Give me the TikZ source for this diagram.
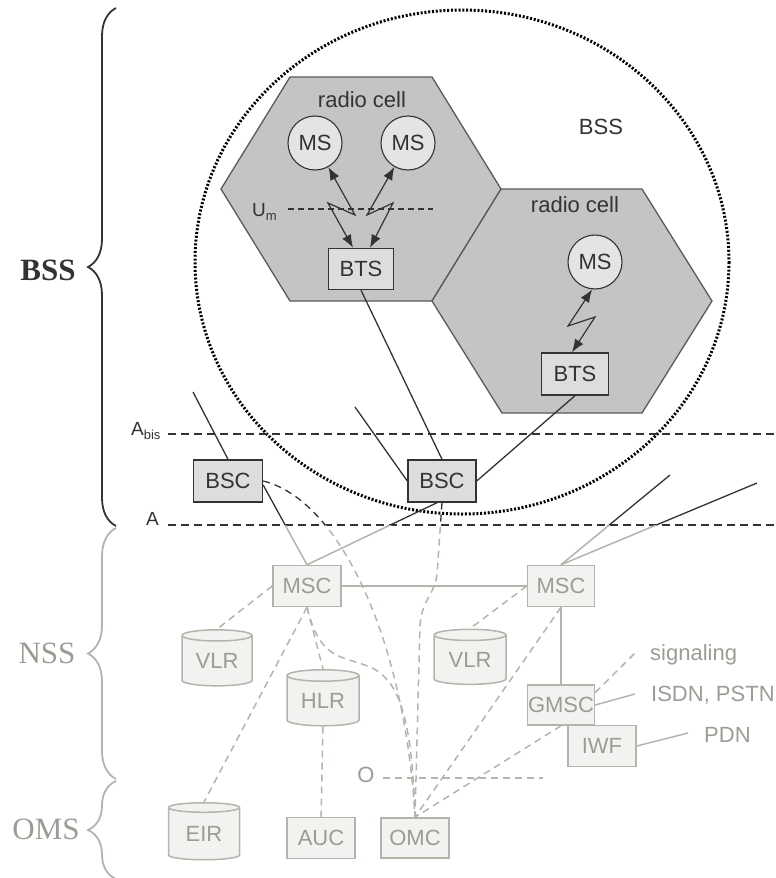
\documentclass[tikz,border=0pt]{standalone}
\usepackage{fontspec}
\setmainfont{Liberation Sans}
\newfontfamily\sideserif{Liberation Serif}
\usetikzlibrary{shapes.geometric,arrows.meta,decorations.pathreplacing}
\pgfdeclarelayer{cells}
\pgfdeclarelayer{links}
\pgfsetlayers{cells,links,main}
\definecolor{ink}{HTML}{333333}
\definecolor{cellfill}{HTML}{C4C4C4}
\definecolor{cellline}{HTML}{5A5A5A}
\definecolor{unitfill}{HTML}{DDDDDD}
\definecolor{msfill}{HTML}{E4E4E4}
\definecolor{pale}{HTML}{B4B4AC}
\definecolor{paletext}{HTML}{9C9C94}
\definecolor{palefill}{HTML}{F2F2F0}
% lowered small text for interface indices
\newcommand\idx[1]{\raisebox{-0.45ex}{\fontsize{13}{13}\selectfont #1}}
% links that leave the BSS: dark above the A interface, pale below it
\newcommand\trunks[2]{%
  \draw[#1] ([yshift=-4pt]BSC1.east) -- (MSC1.north);
  \draw[#1] ([xshift=-5pt]BSC2.south) -- (MSC1.north);
  \draw[#1] (MSC2.north) -- (upA);
  \draw[#1] (MSC2.north) -- (upB);
  \draw[#2] (BSC1.east) .. controls (340,500) and (405,640) .. (OMC.north);
  \draw[#2] (BSC2.south) -- (437,575) .. controls (434,595) and (422,600) .. (420,625) -- (OMC.north);
}
\begin{document}
\begin{tikzpicture}[x=1pt,y=-1pt,
  >={Latex[length=13pt,width=10pt]},
  lbl/.style={font=\fontsize{22}{25}\selectfont, inner sep=0pt},
  unit/.style={draw=ink, line width=1.4pt, fill=unitfill, minimum width=67pt,
    minimum height=41pt, inner sep=0pt, font=\fontsize{22}{25}\selectfont, text=ink},
  mobile/.style={circle, draw=ink, line width=1.1pt, fill=msfill, minimum size=54pt,
    inner sep=0pt, font=\fontsize{22}{25}\selectfont, text=ink},
  netbox/.style={draw=pale, line width=1.5pt, fill=palefill, minimum width=68pt,
    minimum height=41pt, inner sep=0pt, font=\fontsize{22}{25}\selectfont, text=paletext},
  store/.style={cylinder, shape border rotate=90, aspect=0.26, draw=pale, line width=1.5pt,
    fill=palefill, minimum width=71pt, minimum height=56pt, inner sep=0pt,
    font=\fontsize{22}{25}\selectfont, text=paletext},
  radio/.style={<->, draw=ink, line width=1.2pt},
  dark/.style={draw=ink, line width=1.3pt},
  darkdash/.style={draw=ink, line width=1.3pt, dash pattern=on 7pt off 5pt},
  paleline/.style={draw=pale, line width=1.5pt},
  paledash/.style={draw=pale, line width=1.5pt, dash pattern=on 7pt off 5pt},
  iface/.style={draw=ink, line width=1.5pt, dash pattern=on 8pt off 5pt},
  umdash/.style={draw=ink, line width=1.3pt, dash pattern=on 6pt off 4pt},
  dotring/.style={draw=black, line width=3pt, dash pattern=on 2pt off 1.8pt},
  bracket/.style={decorate, decoration={brace, amplitude=28pt}, line width=1.8pt},
]
\useasboundingbox (0,0) rectangle (776,878);

% radio cells
\begin{pgfonlayer}{cells}
  \filldraw[fill=cellfill, draw=cellline, line width=1.3pt]
    (221,189) -- (290,77) -- (432,77) -- (501,189) -- (432,301) -- (290,301) -- cycle;
  \filldraw[fill=cellfill, draw=cellline, line width=1.3pt]
    (432,301) -- (501,189) -- (642,189) -- (712,301) -- (642,413) -- (502,413) -- cycle;
\end{pgfonlayer}

% subsystem braces and names
\draw[bracket, draw=ink] (116,526) -- (116,8);
\draw[bracket, draw=pale] (116,779) -- (116,528);
\draw[bracket, draw=pale] (116,879) -- (116,781);
\node[font=\sideserif\bfseries\fontsize{31}{34}\selectfont, text=ink] (bssSide) at (48,270) {BSS};
\node[font=\sideserif\fontsize{31}{34}\selectfont, text=paletext] (nssSide) at (47,653) {NSS};
\node[font=\sideserif\fontsize{31}{34}\selectfont, text=paletext] (omsSide) at (46,829) {OMS};

% labels inside the BSS
\node[lbl, text=ink] (cellA) at (362,100) {radio cell};
\node[lbl, text=ink] (cellB) at (575,205) {radio cell};
\node[lbl, text=ink] (bssIn) at (601,127) {BSS};
\node[lbl, text=ink, font=\fontsize{19}{22}\selectfont, anchor=base west] (um) at (252,216) {U\idx{m}};
\node[lbl, text=ink, font=\fontsize{19}{22}\selectfont, anchor=base west] (abis) at (131,435) {A\idx{bis}};
\node[lbl, text=ink, font=\fontsize{19}{22}\selectfont, anchor=base west] (aif) at (146,525) {A};

% BSS equipment
\node[mobile] (MS1) at (315,143) {MS};
\node[mobile] (MS2) at (408,143) {MS};
\node[mobile] (MS3) at (595,262) {MS};
\node[unit, minimum width=65pt] (BTS1) at (361,269) {BTS};
\node[unit, minimum height=42pt] (BTS2) at (575,374) {BTS};
\node[unit, minimum width=69pt, minimum height=42pt] (BSC1) at (228,481) {BSC};
\node[unit, minimum width=68pt, minimum height=42pt] (BSC2) at (442,481) {BSC};

% NSS and OMS equipment
\node[netbox] (MSC1) at (307,586) {MSC};
\node[netbox, minimum width=67pt] (MSC2) at (561,586) {MSC};
\node[netbox, minimum width=67pt, minimum height=40pt] (GMSC) at (561,705) {GMSC};
\node[netbox] (IWF) at (602,746) {IWF};
\node[netbox] (AUC) at (321,838) {AUC};
\node[netbox, minimum height=40pt] (OMC) at (415,838) {OMC};
\node[store, minimum width=70pt] (VLR1) at (217,661) {VLR};
\node[store, minimum width=72pt, minimum height=55pt] (VLR2) at (470,660) {VLR};
\node[store, minimum width=72pt] (HLR) at (323,701) {HLR};
\node[store, minimum height=57pt] (EIR) at (204,834) {EIR};
\node[lbl, text=paletext] (oif) at (366,775) {O};
\node[lbl, text=paletext, anchor=west] (sig) at (650,655) {signaling};
\node[lbl, text=paletext, anchor=west] (isdn) at (651,695) {ISDN, PSTN};
\node[lbl, text=paletext, anchor=west] (pdn) at (704,735) {PDN};

% loose ends of connectors
\coordinate (abisL) at (168,434);  \coordinate (abisR) at (776,434);
\coordinate (aL) at (168,525);     \coordinate (aR) at (776,525);
\coordinate (umL) at (288,209);    \coordinate (umR) at (433,209);
\coordinate (oL) at (383,778);     \coordinate (oR) at (543,778);
\coordinate (stub1) at (193,392);  \coordinate (stub2) at (355,407);
\coordinate (upA) at (670,475);    \coordinate (upB) at (757,483);
\coordinate (sigEnd) at (635,653); \coordinate (isdnEnd) at (635,694);
\coordinate (pdnEnd) at (688,733);

\begin{pgfonlayer}{links}
  \draw[dotring] (462,262) ellipse [x radius=267, y radius=252];
  \draw[iface] (abisL) -- (abisR);
  \draw[iface] (aL) -- (aR);
  \draw[umdash] (umL) -- (umR);

  % air interface
  \draw[radio] (MS1) -- (355,215) -- (328,203) -- ([xshift=-8pt]BTS1.north);
  \draw[radio] (MS2) -- (367,215) -- (393,203) -- ([xshift=9pt]BTS1.north);
  \draw[radio] (MS3.-96) -- (568,326) -- (595,317) -- ([xshift=-3pt]BTS2.north);

  % Abis links
  \draw[dark] (stub1) -- (BSC1.north);
  \draw[dark] (stub2) -- (BSC2.west);
  \draw[dark] (BTS1.south) -- (BSC2.north);
  \draw[dark] (BTS2.south) -- (BSC2.east);

  % A links and management paths from the BSCs
  \begin{scope}
    \clip (0,0) rectangle (776,525);
    \trunks{dark}{darkdash}
  \end{scope}
  \begin{scope}
    \clip (0,525) rectangle (776,878);
    \trunks{paleline}{paledash}
  \end{scope}

  % core network
  \draw[paleline] (MSC1.east) -- (MSC2.west);
  \draw[paleline] (MSC2.south) -- (GMSC.north);
  \draw[paleline] (GMSC.east) -- (isdnEnd);
  \draw[paleline] (IWF.east) -- (pdnEnd);
  \draw[paledash] (GMSC.20) -- (sigEnd);
  \draw[paledash] (MSC1.west) -- (VLR1.north);
  \draw[paledash] (MSC1.south) -- (HLR.north);
  \draw[paledash] (MSC1.south) -- (EIR.north);
  \draw[paledash] (HLR.south) -- (AUC.north);
  \draw[paledash] (MSC2.west) -- (VLR2.north);
  \draw[paledash] (MSC2.south) -- (OMC.north);
  \draw[paledash] (GMSC.south) -- (OMC.north);
  \draw[paledash] (MSC1.south) .. controls (320,660) and (340,655) .. (370,667)
    .. controls (400,680) and (412,720) .. (OMC.north);
  \draw[paledash] (oL) -- (oR);
\end{pgfonlayer}
\end{tikzpicture}
\end{document}
